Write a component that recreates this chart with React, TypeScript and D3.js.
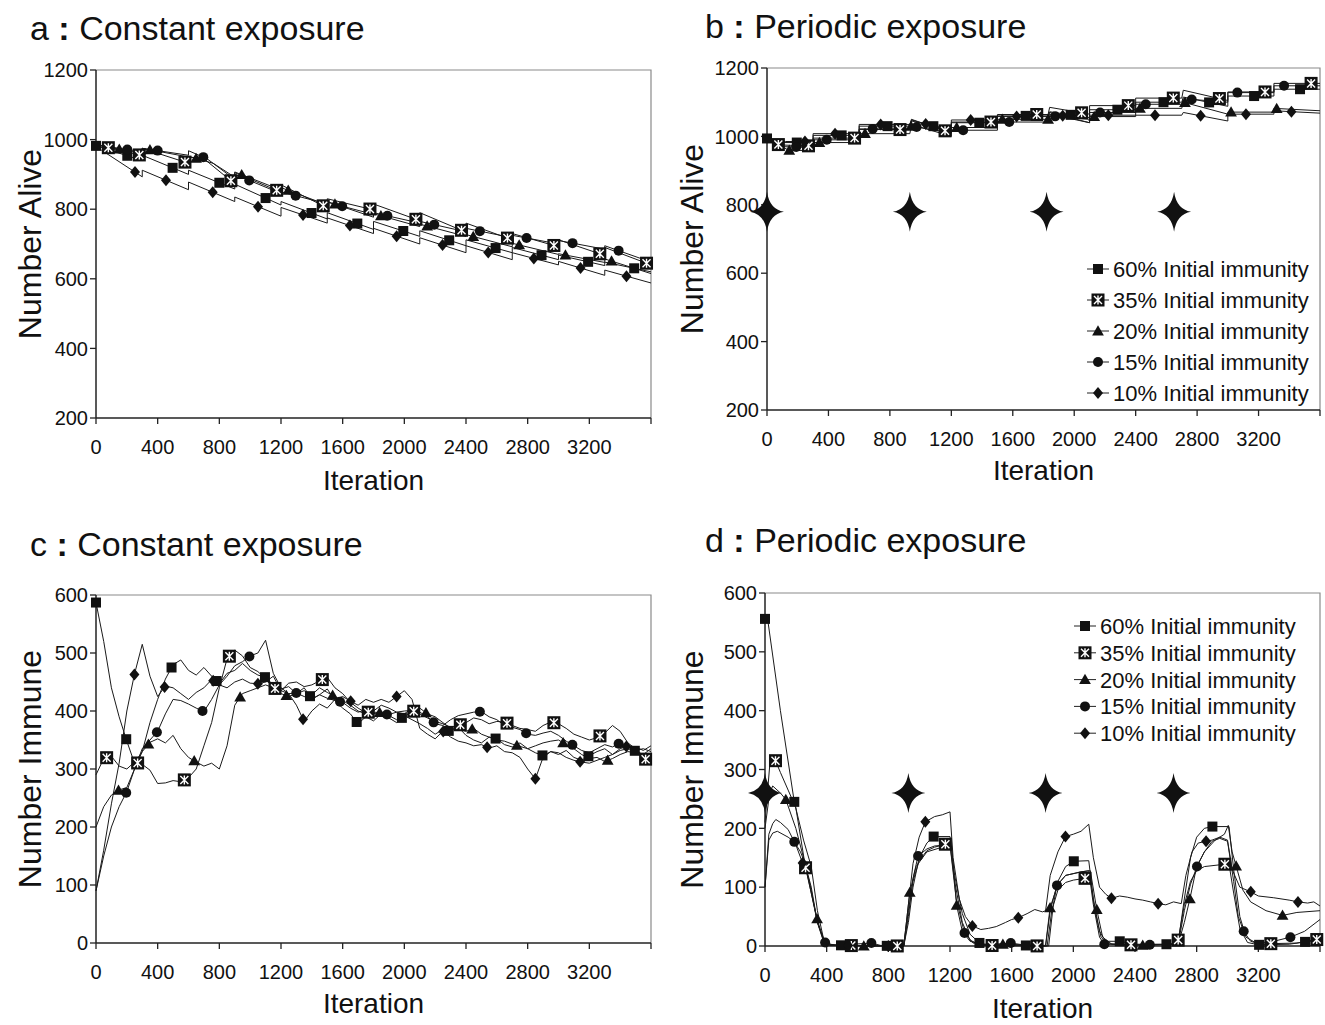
import React from 'react';
import * as d3 from 'd3';

type Pt = [number, number];

const SERIES_NAMES = ['60% Initial immunity', '35% Initial immunity', '20% Initial immunity', '15% Initial immunity', '10% Initial immunity'];
const SYMBOLS = ['square', 'xsquare', 'triangle', 'circle', 'diamond'];
const X_TICKS = [0, 400, 800, 1200, 1600, 2000, 2400, 2800, 3200];
const ALIVE_TICKS = [200, 400, 600, 800, 1000, 1200];
const IMMUNE_TICKS = [0, 100, 200, 300, 400, 500, 600];
const STAR_ITERS = [0, 930, 1820, 2650];

// ---------- Panel a: constant exposure, number alive ----------
const aSquare: Pt[] = [[0,982],[300,940],[300,955],[600,900],[600,912],[900,858],[900,872],[1200,812],[1200,822],[1500,772],[1500,790],[1800,742],[1800,765],[2100,722],[2100,738],[2400,695],[2400,712],[2700,675],[2700,690],[3000,655],[3000,668],[3300,638],[3300,648],[3600,620]];
const aCross: Pt[] = [[0,985],[300,954],[300,975],[600,932],[600,950],[700,945],[880,880],[900,877],[900,905],[1200,849],[1200,870],[1500,804],[1500,830],[1800,798],[1800,815],[2100,767],[2100,790],[2400,734],[2400,760],[2700,712],[2700,730],[3000,692],[3000,712],[3300,667],[3300,690],[3600,640]];
const aTriangle: Pt[] = [[0,985],[300,960],[300,975],[600,950],[600,952],[760,932],[900,892],[900,907],[1200,855],[1200,862],[1500,812],[1500,822],[1800,777],[1800,787],[2100,750],[2100,757],[2400,722],[2400,727],[2700,692],[2700,702],[3000,670],[3000,672],[3300,647],[3300,657],[3600,615]];
const aCircle: Pt[] = [[0,985],[300,965],[300,975],[600,955],[600,968],[720,945],[880,892],[900,888],[900,900],[1200,845],[1200,850],[1500,815],[1500,820],[1800,785],[1800,790],[2100,760],[2100,765],[2400,735],[2400,745],[2700,718],[2700,725],[3000,700],[3000,710],[3300,685],[3300,695],[3600,648]];
const aDiamond: Pt[] = [[0,980],[300,893],[300,912],[600,856],[600,878],[900,822],[900,835],[1200,780],[1200,805],[1500,760],[1500,775],[1800,730],[1800,745],[2100,700],[2100,718],[2400,675],[2400,695],[2700,655],[2700,675],[3000,640],[3000,650],[3300,610],[3300,625],[3600,588]];
const aMarks = [
  [0, 203, 497, 800, 1100, 1398, 1695, 1993, 2291, 2592, 2890, 3192, 3491],
  [80, 281, 577, 875, 1172, 1474, 1777, 2075, 2371, 2669, 2970, 3268, 3571],
  [151, 350, 649, 945, 1247, 1550, 1848, 2148, 2447, 2745, 3045, 3344],
  [203, 400, 696, 994, 1295, 1597, 1890, 2194, 2490, 2793, 3091, 3390],
  [253, 454, 757, 1051, 1343, 1647, 1950, 2248, 2544, 2840, 3143, 3441],
];

// ---------- Panel b: periodic exposure, number alive ----------
const bSquare: Pt[] = [[0,994],[60,982],[300,982],[300,1003],[600,1003],[600,1030],[930,1030],[940,1048],[1200,1015],[1200,1040],[1500,1040],[1500,1060],[1830,1060],[1840,1072],[2100,1055],[2100,1078],[2400,1078],[2400,1100],[2700,1100],[2710,1115],[3000,1088],[3000,1118],[3300,1118],[3300,1138],[3600,1138]];
const bCross: Pt[] = [[0,990],[80,975],[300,972],[300,995],[600,995],[600,1020],[930,1020],[940,1050],[1200,1010],[1200,1042],[1500,1042],[1500,1064],[1830,1064],[1840,1085],[2100,1065],[2100,1090],[2400,1090],[2400,1112],[2700,1112],[2710,1135],[3000,1105],[3000,1130],[3300,1130],[3300,1155],[3600,1155]];
const bTriangle: Pt[] = [[0,990],[150,958],[300,960],[300,982],[600,982],[600,1008],[930,1008],[940,1035],[1200,1000],[1200,1026],[1500,1026],[1500,1050],[1830,1050],[1840,1065],[2100,1040],[2100,1058],[2400,1058],[2400,1082],[2700,1082],[2710,1100],[3000,1065],[3000,1071],[3300,1071],[3300,1082],[3600,1075]];
const bCircle: Pt[] = [[0,992],[100,970],[300,968],[300,990],[600,990],[600,1022],[930,1022],[940,1030],[1200,1010],[1200,1018],[1500,1018],[1500,1042],[1830,1042],[1840,1060],[2100,1050],[2100,1070],[2400,1070],[2400,1094],[2700,1094],[2710,1110],[3000,1100],[3000,1128],[3300,1128],[3300,1148],[3600,1148]];
const bDiamond: Pt[] = [[0,992],[120,985],[300,985],[300,1008],[600,1008],[600,1035],[930,1035],[940,1045],[1200,1020],[1200,1048],[1500,1048],[1500,1058],[1830,1058],[1840,1070],[2100,1040],[2100,1062],[2400,1062],[2700,1062],[2710,1070],[3000,1045],[3000,1065],[3300,1065],[3300,1075],[3600,1068]];
const bMarks = [
  [0, 194, 486, 785, 1083, 1382, 1684, 1977, 2281, 2581, 2878, 3171, 3470],
  [74, 270, 570, 866, 1159, 1458, 1756, 2048, 2352, 2645, 2945, 3242, 3542],
  [145, 341, 638, 938, 1235, 1532, 1830, 2130, 2428, 2721, 3021, 3318],
  [190, 389, 688, 974, 1277, 1577, 1876, 2168, 2466, 2765, 3062, 3366],
  [247, 443, 740, 1033, 1326, 1625, 1925, 2222, 2526, 2823, 3118, 3414],
];

// ---------- Panel c: constant exposure, number immune (every 50 iterations) ----------
const cIters = d3.range(0, 3601, 50);
const cSquare = [587,520,440,390,348,310,330,380,420,455,480,488,470,462,475,460,447,465,470,482,470,462,458,445,438,442,430,440,421,428,438,418,405,395,378,390,383,395,388,380,392,385,378,370,360,368,365,372,358,350,345,355,352,342,338,345,335,328,323,330,325,332,320,315,323,330,335,325,332,335,331,325,335];
const cCross = [290,318,322,305,300,312,308,298,275,276,280,278,285,300,340,380,440,490,505,495,475,468,455,440,435,448,450,442,445,452,458,440,430,415,405,397,400,410,405,398,400,401,395,388,382,378,372,375,380,388,385,378,382,381,375,370,368,365,375,381,378,370,360,355,350,354,362,375,365,345,335,320,310];
const cTriangle = [200,235,255,264,268,300,330,346,352,345,358,335,320,312,305,310,300,340,410,430,435,440,445,440,430,425,430,435,428,440,432,425,418,410,400,395,398,397,392,385,390,400,405,395,390,380,370,368,365,370,360,355,350,348,343,339,335,340,345,348,350,342,335,325,318,320,313,318,325,330,328,320,318];
const cCircle = [90,150,200,235,261,300,335,350,365,395,420,418,412,405,399,420,445,460,478,485,495,500,522,465,440,430,431,425,420,428,422,418,415,405,398,402,396,394,394,398,395,405,398,390,378,375,385,392,395,398,399,390,385,375,372,368,360,358,362,365,358,348,340,332,328,335,342,338,345,340,332,335,330];
const cDiamond = [90,160,240,310,400,464,515,460,425,443,440,430,420,432,440,454,445,440,450,455,448,447,450,460,435,430,410,382,400,412,405,420,425,417,410,420,415,420,415,425,435,420,370,360,352,365,355,348,345,340,342,336,340,330,328,320,300,283,320,330,328,320,315,312,310,315,320,325,335,340,338,332,340];
const cMarks = [
  [0, 196, 490, 782, 1096, 1388, 1691, 1984, 2288, 2592, 2896, 3194, 3495],
  [69, 270, 573, 865, 1161, 1468, 1766, 2061, 2363, 2666, 2970, 3269, 3565],
  [146, 340, 637, 935, 1235, 1535, 1840, 2140, 2440, 2730, 3030, 3319],
  [196, 395, 691, 995, 1299, 1583, 1887, 2190, 2490, 2790, 3090, 3390],
  [249, 445, 760, 1050, 1343, 1652, 1950, 2252, 2537, 2850, 3140, 3440],
];

// ---------- Panel d: periodic exposure, number immune ----------
const dSquare: Pt[] = [[0,556],[20,550],[100,400],[190,245],[250,180],[300,135],[340,60],[380,12],[420,3],[500,1],[900,0],[930,40],[960,100],[1000,150],[1050,175],[1094,186],[1200,186],[1230,120],[1280,55],[1330,20],[1400,3],[1820,0],[1850,60],[1900,110],[1950,135],[2003,144],[2100,145],[2130,80],[2170,25],[2210,8],[2301,8],[2400,3],[2604,3],[2680,5],[2720,80],[2760,150],[2800,185],[2850,200],[2902,203],[3010,203],[3040,130],[3080,50],[3120,15],[3205,2],[3400,3],[3503,7],[3600,10]];
const dCross: Pt[] = [[0,210],[30,305],[68,315],[100,295],[150,265],[200,235],[263,133],[300,90],[340,40],[380,8],[420,1],[900,0],[930,60],[960,110],[1000,145],[1050,162],[1100,168],[1170,173],[1200,173],[1230,110],[1280,40],[1330,10],[1400,1],[1830,0],[1860,60],[1900,95],[1950,108],[2000,112],[2076,115],[2110,115],[2140,60],[2180,15],[2220,4],[2374,2],[2650,3],[2680,10],[2720,70],[2760,110],[2800,128],[2850,135],[2983,139],[3010,139],[3040,90],[3080,30],[3130,6],[3200,2],[3281,4],[3450,5],[3579,11],[3600,12]];
const dTriangle: Pt[] = [[0,200],[30,260],[50,272],[100,260],[135,249],[200,200],[260,140],[300,90],[338,46],[380,10],[420,2],[641,0],[900,0],[939,91],[980,135],[1050,160],[1150,168],[1210,170],[1243,69],[1280,25],[1330,8],[1400,3],[1543,3],[1820,1],[1849,65],[1900,105],[1950,120],[2050,126],[2110,128],[2152,62],[2190,15],[2250,3],[2450,1],[2680,3],[2720,40],[2756,80],[2800,135],[2850,160],[2920,180],[2980,190],[3005,205],[3030,160],[3056,136],[3100,95],[3150,75],[3250,60],[3357,52],[3450,57],[3600,60]];
const dCircle: Pt[] = [[0,100],[25,180],[50,192],[80,195],[150,185],[190,177],[230,160],[260,140],[300,95],[340,40],[390,6],[450,1],[690,5],[750,1],[900,0],[930,50],[960,115],[993,153],[1050,165],[1100,170],[1200,172],[1240,80],[1294,22],[1350,5],[1450,2],[1594,5],[1700,1],[1840,0],[1870,70],[1894,103],[1950,120],[2050,126],[2100,128],[2130,70],[2170,15],[2201,3],[2496,2],[2680,3],[2720,60],[2760,105],[2802,135],[2850,160],[2900,178],[2950,183],[3000,178],[3040,110],[3070,50],[3105,25],[3150,8],[3200,4],[3300,8],[3408,15],[3500,25],[3600,45]];
const dDiamond: Pt[] = [[0,100],[25,190],[50,208],[70,215],[100,210],[150,198],[200,172],[244,141],[280,120],[300,100],[340,40],[380,8],[420,1],[900,0],[930,70],[960,140],[1000,185],[1040,211],[1100,220],[1150,223],[1200,228],[1220,150],[1260,80],[1300,50],[1345,34],[1400,28],[1450,30],[1500,33],[1560,40],[1600,45],[1643,48],[1700,55],[1750,62],[1800,58],[1820,60],[1850,120],[1900,160],[1949,186],[2000,190],[2050,195],[2100,207],[2130,150],[2170,100],[2210,88],[2247,81],[2300,85],[2350,83],[2400,80],[2450,78],[2500,75],[2550,72],[2600,70],[2650,75],[2700,72],[2730,120],[2770,160],[2810,175],[2861,178],[2900,180],[2950,185],[3000,180],[3030,130],[3080,100],[3151,92],[3200,85],[3300,82],[3400,78],[3457,75],[3520,73],[3560,75],[3600,68]];
const dMarks = [
  [0, 190, 493, 790, 1094, 1391, 1692, 2003, 2301, 2604, 2902, 3205, 3503],
  [68, 263, 560, 858, 1170, 1473, 1765, 2076, 2374, 2680, 2983, 3281, 3579],
  [135, 338, 641, 939, 1243, 1543, 1849, 2152, 2450, 2756, 3056, 3357],
  [190, 390, 690, 993, 1294, 1594, 1894, 2201, 2496, 2802, 3105, 3408],
  [244, 540, 800, 1040, 1345, 1643, 1949, 2247, 2550, 2861, 3151, 3457],
];

const FONT = "'Liberation Sans', Arial, Helvetica, sans-serif";
const LINE_COLOR = '#1a1a1a';

function zipIters(vals: number[]): Pt[] {
  return vals.map((v, i) => [cIters[i], v] as Pt);
}

function valueAt(data: Pt[], x: number): number {
  if (x <= data[0][0]) return data[0][1];
  for (let i = 1; i < data.length; i++) {
    const [x0, y0] = data[i - 1];
    const [x1, y1] = data[i];
    if (x >= x0 && x <= x1) {
      if (x1 === x0) return y1;
      return y0 + ((y1 - y0) * (x - x0)) / (x1 - x0);
    }
  }
  return data[data.length - 1][1];
}

function Marker({ sym, x, y }: { sym: string; x: number; y: number }) {
  if (sym === 'square') return <rect x={x - 5} y={y - 5} width={10} height={10} fill="#111" />;
  if (sym === 'xsquare')
    return (
      <g>
        <rect x={x - 6.5} y={y - 6.5} width={13} height={13} fill="#111" />
        <path d={`M${x - 4},${y - 4}L${x + 4},${y + 4}M${x + 4},${y - 4}L${x - 4},${y + 4}M${x},${y - 4.5}L${x},${y + 4.5}`} stroke="#fff" strokeWidth={1.4} />
      </g>
    );
  if (sym === 'triangle')
    return <path d={d3.symbol(d3.symbolTriangle, 60)()!} transform={`translate(${x},${y + 1})`} fill="#111" />;
  if (sym === 'circle') return <circle cx={x} cy={y} r={5} fill="#111" />;
  return <path d={`M${x},${y - 6}L${x + 5},${y}L${x},${y + 6}L${x - 5},${y}Z`} fill="#111" />;
}

function starPath(cx: number, cy: number, rx: number, ry: number, w: number) {
  return `M${cx},${cy - ry}Q${cx + w},${cy - w} ${cx + rx},${cy}Q${cx + w},${cy + w} ${cx},${cy + ry}Q${cx - w},${cy + w} ${cx - rx},${cy}Q${cx - w},${cy - w} ${cx},${cy - ry}Z`;
}

interface PanelCfg {
  letter: string;
  title: string;
  titleX: number;
  titleY: number;
  left: number;
  right: number;
  top: number;
  bottom: number;
  yDomain: [number, number];
  yTicks: number[];
  yLabel: string;
  yLabelX: number;
  xLabelY: number;
  series: Pt[][];
  marks: number[][];
  legend?: { x: number; y: number; dy: number; fs: number };
  starValue?: number;
}

function Panel({ c }: { c: PanelCfg }) {
  const x = d3.scaleLinear().domain([0, 3600]).range([c.left, c.right]);
  const y = d3.scaleLinear().domain(c.yDomain).range([c.bottom, c.top]);
  const line = d3.line<Pt>().x((d) => x(d[0])).y((d) => y(d[1]));
  return (
    <g>
      <text x={c.titleX} y={c.titleY} fontSize={34} fill="#111">
        <tspan>{c.letter}</tspan>
        <tspan fontWeight="bold">{' :'}</tspan>
        <tspan>{' ' + c.title}</tspan>
      </text>
      {/* frame */}
      <path d={`M${c.left},${c.top}H${c.right}V${c.bottom}`} fill="none" stroke="#8a8a8a" strokeWidth={1.2} />
      {/* y axis */}
      <line x1={c.left} x2={c.left} y1={c.top} y2={c.bottom} stroke="#222" strokeWidth={1.5} />
      {c.yTicks.map((t) => (
        <g key={'y' + t}>
          <line x1={c.left - 6} x2={c.left} y1={y(t)} y2={y(t)} stroke="#222" strokeWidth={1.3} />
          <text x={c.left - 8} y={y(t)} dy="0.36em" textAnchor="end" fontSize={20} fill="#111">{t}</text>
        </g>
      ))}
      {/* x axis */}
      <line x1={c.left} x2={c.right} y1={c.bottom} y2={c.bottom} stroke="#222" strokeWidth={1.5} />
      {X_TICKS.map((t) => (
        <g key={'x' + t}>
          <line x1={x(t)} x2={x(t)} y1={c.bottom} y2={c.bottom + 6} stroke="#222" strokeWidth={1.3} />
          <text x={x(t)} y={c.bottom + 36} textAnchor="middle" fontSize={20} fill="#111">{t}</text>
        </g>
      ))}
      <line x1={c.right} x2={c.right} y1={c.bottom} y2={c.bottom + 6} stroke="#222" strokeWidth={1.3} />
      <text x={(c.left + c.right) / 2} y={c.xLabelY} textAnchor="middle" fontSize={28} fill="#111">Iteration</text>
      <text transform={`translate(${c.yLabelX},${(c.top + c.bottom) / 2}) rotate(-90)`} textAnchor="middle" dy="0.35em" fontSize={32} fill="#111">{c.yLabel}</text>
      {/* lines */}
      {c.series.map((s, i) => (
        <path key={'l' + i} d={line(s)!} fill="none" stroke={LINE_COLOR} strokeWidth={1} strokeLinejoin="round" />
      ))}
      {/* markers */}
      {c.series.map((s, i) =>
        c.marks[i].map((m, j) => <Marker key={`m${i}-${j}`} sym={SYMBOLS[i]} x={x(m)} y={y(valueAt(s, m))} />)
      )}
      {/* stars */}
      {c.starValue !== undefined &&
        STAR_ITERS.map((s) => <path key={'s' + s} d={starPath(x(s), y(c.starValue!), 17, 20, 2.5)} fill="#111" />)}
      {/* legend */}
      {c.legend &&
        SERIES_NAMES.map((n, i) => {
          const ly = c.legend!.y + i * c.legend!.dy;
          const lx = c.legend!.x;
          return (
            <g key={'lg' + i}>
              <line x1={lx - 11} x2={lx + 11} y1={ly} y2={ly} stroke="#222" strokeWidth={1} />
              <Marker sym={SYMBOLS[i]} x={lx} y={ly} />
              <text x={lx + 15} y={ly} dy="0.36em" fontSize={c.legend!.fs} fill="#111">{n}</text>
            </g>
          );
        })}
    </g>
  );
}

const panels: PanelCfg[] = [
  {
    letter: 'a', title: 'Constant exposure', titleX: 30, titleY: 40,
    left: 96, right: 651, top: 70, bottom: 418, yDomain: [200, 1200], yTicks: ALIVE_TICKS,
    yLabel: 'Number Alive', yLabelX: 30, xLabelY: 490,
    series: [aSquare, aCross, aTriangle, aCircle, aDiamond], marks: aMarks,
  },
  {
    letter: 'b', title: 'Periodic exposure', titleX: 705, titleY: 38,
    left: 767, right: 1320, top: 68, bottom: 410, yDomain: [200, 1200], yTicks: ALIVE_TICKS,
    yLabel: 'Number Alive', yLabelX: 692, xLabelY: 480,
    series: [bSquare, bCross, bTriangle, bCircle, bDiamond], marks: bMarks,
    legend: { x: 1098, y: 269, dy: 31, fs: 22 }, starValue: 780,
  },
  {
    letter: 'c', title: 'Constant exposure', titleX: 30, titleY: 556,
    left: 96, right: 651, top: 595, bottom: 943, yDomain: [0, 600], yTicks: IMMUNE_TICKS,
    yLabel: 'Number Immune', yLabelX: 30, xLabelY: 1013,
    series: [zipIters(cSquare), zipIters(cCross), zipIters(cTriangle), zipIters(cCircle), zipIters(cDiamond)], marks: cMarks,
  },
  {
    letter: 'd', title: 'Periodic exposure', titleX: 705, titleY: 552,
    left: 765, right: 1320, top: 593, bottom: 946, yDomain: [0, 600], yTicks: IMMUNE_TICKS,
    yLabel: 'Number Immune', yLabelX: 692, xLabelY: 1018,
    series: [dSquare, dCross, dTriangle, dCircle, dDiamond], marks: dMarks,
    legend: { x: 1085, y: 626, dy: 26.8, fs: 22 }, starValue: 260,
  },
];

export default function App() {
  return (
    <svg width={1325} height={1025} style={{ position: 'absolute', left: 0, top: 0, background: '#fff' }} fontFamily={FONT}>
      <rect width={1325} height={1025} fill="#fff" />
      {panels.map((p) => (
        <Panel key={p.letter} c={p} />
      ))}
    </svg>
  );
}
